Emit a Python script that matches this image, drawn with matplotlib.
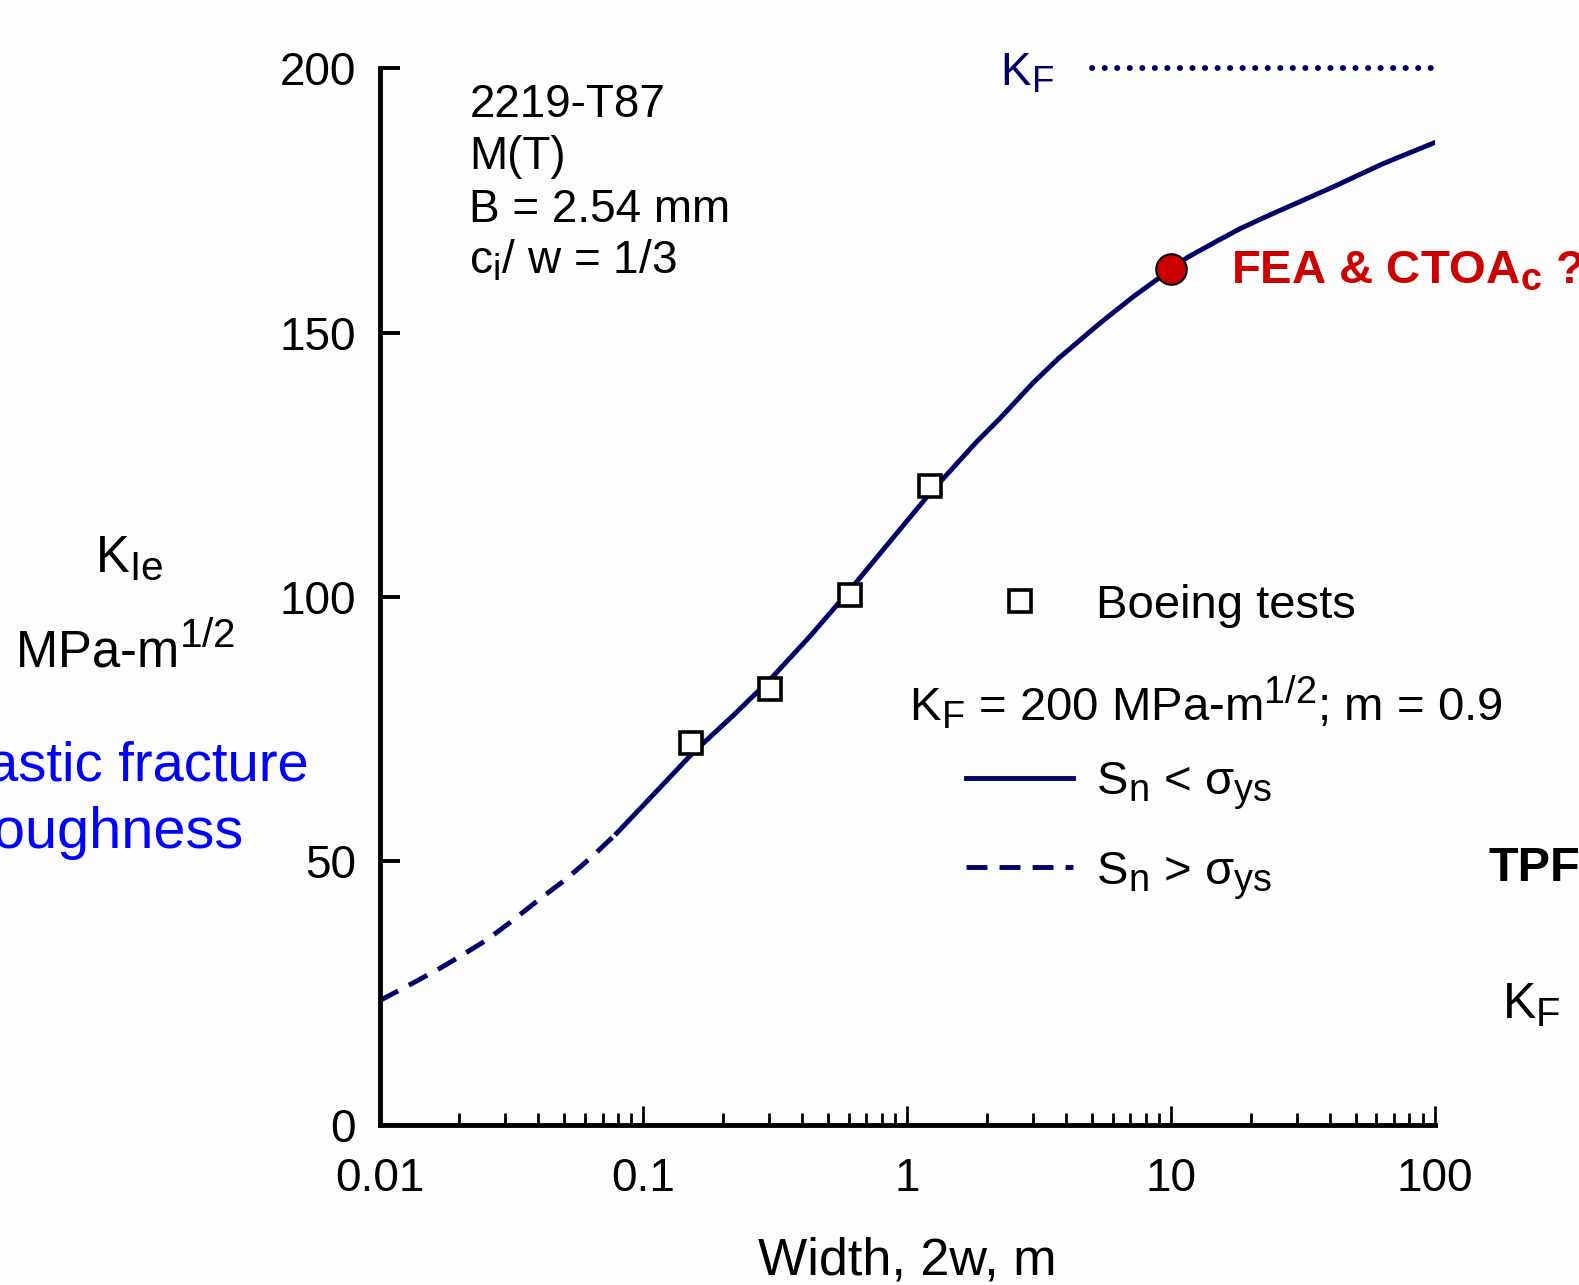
import matplotlib

matplotlib.use("Agg")
import matplotlib._mathtext as mathtext_impl
import matplotlib.pyplot as plt
from matplotlib.lines import Line2D
from matplotlib.ticker import FixedLocator, LogLocator, NullFormatter

plt.rcParams["font.family"] = ["Liberation Sans", "DejaVu Sans"]
plt.rcParams["mathtext.fontset"] = "custom"
plt.rcParams["mathtext.rm"] = "Liberation Sans"
plt.rcParams["mathtext.it"] = "Liberation Sans:italic"
plt.rcParams["mathtext.bf"] = "Liberation Sans:bold"
# larger sub/superscripts than the mathtext default of 0.7
mathtext_impl.SHRINK_FACTOR = 0.8

NAVY = "#000066"
RED = "#cc0000"

# TPFC prediction of K_Ie against panel width, 2219-T87 M(T)
width_dashed = [0.01, 0.013, 0.0169, 0.0202, 0.0255, 0.0312, 0.0406, 0.0512, 0.0646, 0.0792]
kie_dashed = [23.5, 26.5, 29.6, 31.9, 35.0, 38.3, 42.8, 46.6, 51.0, 55.2]

width_solid = [0.0792, 0.0999, 0.1545, 0.219, 0.302, 0.428, 0.607, 0.885, 1.22, 1.83,
               2.24, 3.0, 3.74, 5.38, 7.19, 10.0, 11.5, 14.9, 18.3, 23.0,
               30.8, 41.2, 63.7, 100.0]
kie_solid = [55.2, 60.5, 70.5, 77.5, 84.3, 92.5, 101.3, 111.2, 119.6, 129.3,
             133.7, 140.5, 145.1, 151.8, 156.8, 162.0, 164.2, 167.3, 169.7, 172.0,
             174.8, 177.6, 182.0, 186.0]

boeing_width = [0.152, 0.303, 0.609, 1.22]
boeing_kie = [72.2, 82.6, 100.3, 121.0]

fea_width = [10.0]
fea_kie = [162.0]

kf_width = [5.0, 98.0]
kf_value = [200.0, 200.0]

xtick_values = [0.01, 0.1, 1, 10, 100]
xtick_labels = ["0.01", "0.1", "1", "10", "100"]
ytick_values = [0, 50, 100, 150, 200]

fig = plt.figure(figsize=(15.79, 12.85), dpi=100)
fig.patch.set_facecolor("#fdfdfd")
ax = fig.add_axes([0.2404, 0.1247, 0.6684, 0.822])
ax.set_facecolor("none")

curve_lw = 3.5
dash_pattern = (4.3, 2.5)
ax.plot(width_dashed, kie_dashed, color=NAVY, lw=curve_lw, dashes=dash_pattern)
ax.plot(width_solid, kie_solid, color=NAVY, lw=curve_lw, solid_joinstyle="round")
ax.plot(kf_width, kf_value, color=NAVY, lw=4.2, linestyle=(0, (0.05, 2.1)),
        dash_capstyle="round", clip_on=False)
ax.plot(boeing_width, boeing_kie, ls="none", marker="s", ms=16.5, mfc="white",
        mec="black", mew=2.6, zorder=4)
ax.plot(fea_width, fea_kie, ls="none", marker="o", ms=22, mfc=RED,
        mec="black", mew=1.5, zorder=5)

ax.set_xscale("log")
ax.set_xlim(0.01, 100)
ax.set_ylim(0, 200)
ax.xaxis.set_major_locator(FixedLocator(xtick_values))
ax.set_xticklabels(xtick_labels)
ax.xaxis.set_minor_locator(LogLocator(base=10, subs=range(2, 10)))
ax.xaxis.set_minor_formatter(NullFormatter())
ax.set_yticks(ytick_values)

for side in ("top", "right"):
    ax.spines[side].set_visible(False)
for side in ("left", "bottom"):
    ax.spines[side].set_linewidth(3.5)

ax.tick_params(axis="x", which="major", direction="in", length=13.5, width=2,
               pad=23, labelsize=33, top=False)
ax.tick_params(axis="x", which="minor", direction="in", length=9, width=2, top=False)
ax.tick_params(axis="y", which="major", direction="in", length=14.5, width=2.8,
               pad=17, labelsize=33, right=False)

ax.set_xlabel("Width, 2w, m", fontsize=37.5)
ax.xaxis.set_label_coords(0.5, -0.1413)
ax.xaxis.label.set_va("baseline")

# y label, stacked by hand
fig.text(0.0600, 0.5549, r"K$_\mathrm{Ie}$", fontsize=36.5, va="baseline")
fig.text(0.0092, 0.4813, r"MPa-m$^\mathrm{1/2}$", fontsize=36.5, va="baseline")

fig.text(0.1958, 0.3927, "Elastic fracture", fontsize=40.5, color="#0000ff",
         ha="right", va="baseline")
fig.text(0.1543, 0.3400, "toughness", fontsize=41.5, color="#0000ff",
         ha="right", va="baseline")

fig.text(0.9425, 0.3144, "TPF", fontsize=35, fontweight="bold", ha="left", va="baseline")
fig.text(0.9515, 0.2070, r"K$_\mathrm{F}$", fontsize=36, ha="left", va="baseline")

fig.text(0.7794, 0.779, r"FEA & CTOA$_\mathbf{c}$ ?", fontsize=34, fontweight="bold",
         color=RED, ha="left", va="baseline")
fig.text(0.6333, 0.9334, r"K$_\mathrm{F}$", fontsize=33, color=NAVY, va="baseline")

# specimen details
details = ["2219-T87", "M(T)", "B = 2.54 mm", r"c$_\mathrm{i}$/ w = 1/3"]
for i, line in enumerate(details):
    ax.text(0.085, 0.9543 - 0.0496 * i, line, transform=ax.transAxes, fontsize=33,
            va="baseline")

legend_kw = dict(frameon=False, fontsize=34, handlelength=2.25, handletextpad=0.5,
                 borderpad=0, borderaxespad=0, loc="center left")
boeing_handle = Line2D([], [], ls="none", marker="s", ms=16.5, mfc="white", mec="black", mew=2.6)
leg1 = ax.legend([boeing_handle], ["Boeing tests"], bbox_to_anchor=(0.556, 0.4915), **legend_kw)
ax.add_artist(leg1)

ax.text(0.502, 0.383, r"K$_\mathrm{F}$ = 200 MPa-m$^\mathrm{1/2}$; m = 0.9",
        transform=ax.transAxes, fontsize=34, va="baseline")

solid_handle = Line2D([], [], color=NAVY, lw=curve_lw)
dashed_handle = Line2D([], [], color=NAVY, lw=curve_lw, dashes=dash_pattern)
ax.legend([solid_handle, dashed_handle],
          [r"S$_\mathrm{n}$ < σ$_\mathrm{ys}$", r"S$_\mathrm{n}$ > σ$_\mathrm{ys}$"],
          bbox_to_anchor=(0.556, 0.278), labelspacing=0.8, **legend_kw)

fig.savefig("out.png", dpi=100, facecolor=fig.get_facecolor())
